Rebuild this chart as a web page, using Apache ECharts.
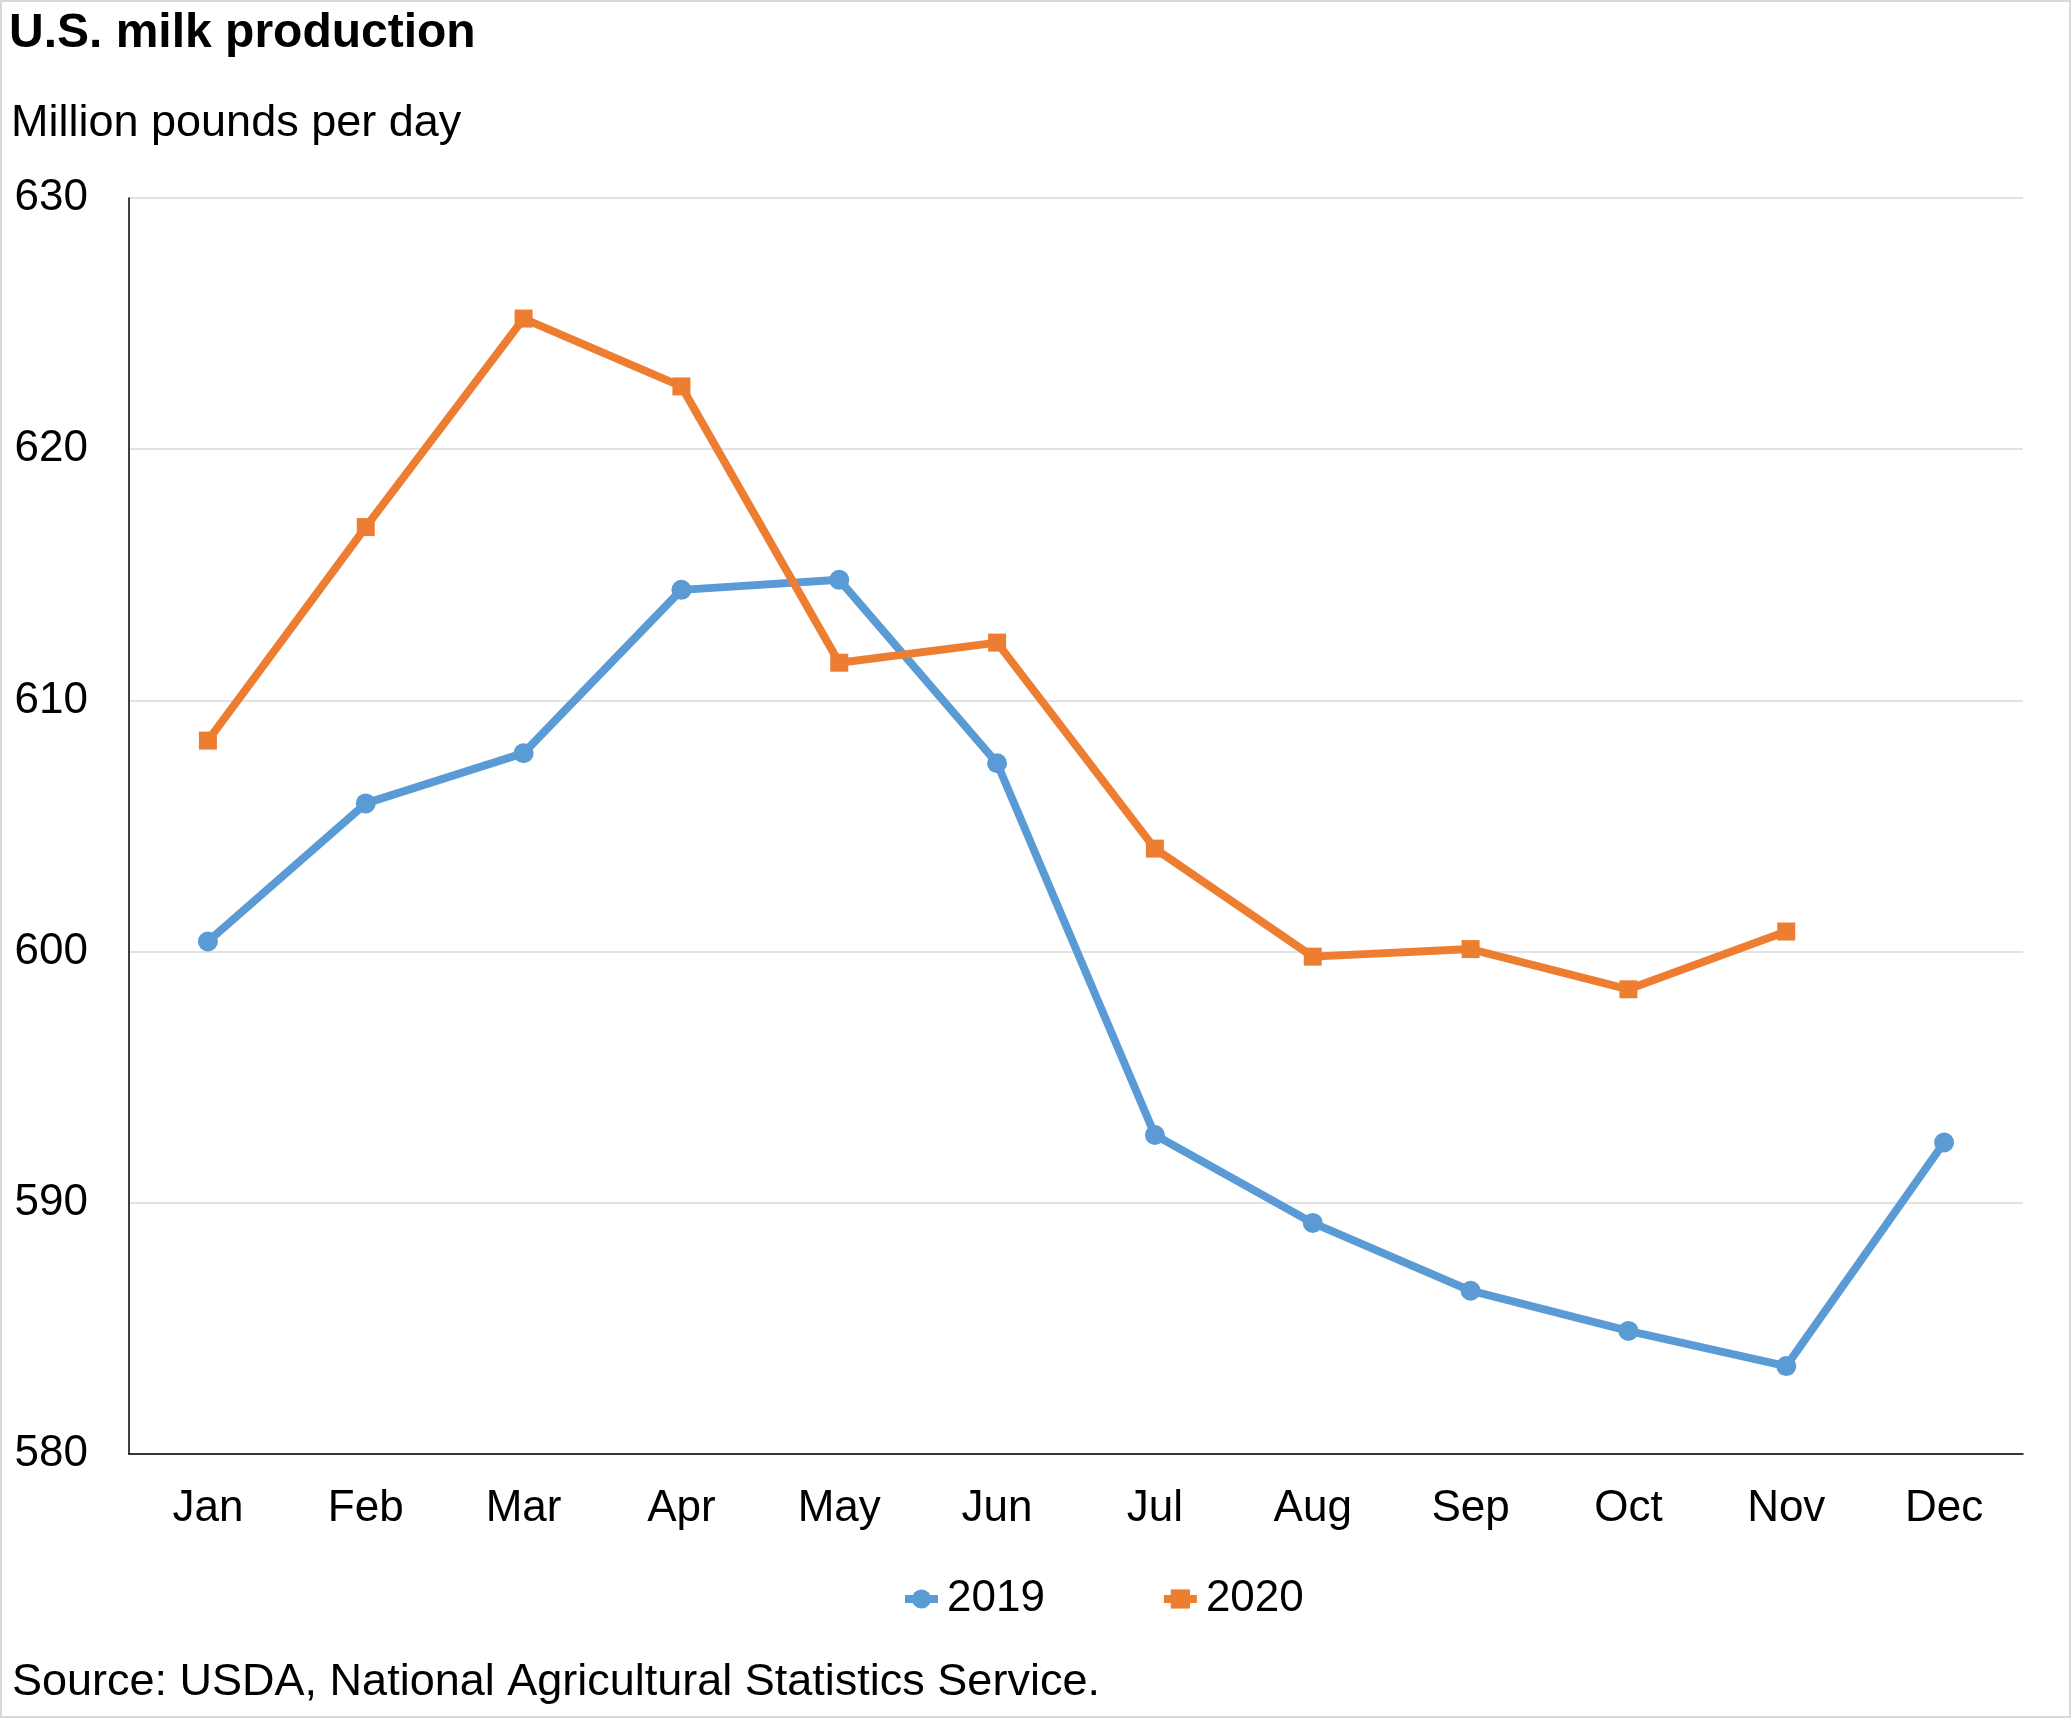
<!DOCTYPE html>
<html>
<head>
<meta charset="utf-8">
<title>U.S. milk production</title>
<script src="https://cdn.jsdelivr.net/npm/echarts@6/dist/echarts.min.js"></script>
<style>
  html, body { margin: 0; padding: 0; background: #fff; }
  #milk-line { width: 2071px; height: 1718px; }
</style>
</head>
<body>
<div id="milk-line"></div>
<script>
// values, million pounds per day
var months = ['Jan', 'Feb', 'Mar', 'Apr', 'May', 'Jun', 'Jul', 'Aug', 'Sep', 'Oct', 'Nov', 'Dec'];
var milk_2019 = [600.4, 605.9, 607.9, 614.4, 614.8, 607.5, 592.7, 589.2, 586.5, 584.9, 583.5, 592.4];
var milk_2020 = [608.4, 616.9, 625.2, 622.5, 611.5, 612.3, 604.1, 599.8, 600.1, 598.5, 600.8, null];
var y_ticks = [580, 590, 600, 610, 620, 630];

var font = '"Liberation Sans", Arial, sans-serif';

var milk_line = echarts.init(document.getElementById('milk-line'), null, { renderer: 'canvas' });
var milk_line_option = {
    animation: false,
    backgroundColor: '#ffffff',
    textStyle: { fontFamily: font, color: '#000' },
    title: [
        {
            text: 'U.S. milk production',
            left: 9, top: 10, padding: 0,
            textStyle: { fontFamily: font, fontSize: 48, fontWeight: 'bold', color: '#000' }
        },
        {
            text: 'Million pounds per day',
            left: 11, top: 101, padding: 0,
            textStyle: { fontFamily: font, fontSize: 45, fontWeight: 'normal', color: '#000' }
        },
        {
            text: 'Source: USDA, National Agricultural Statistics Service.',
            left: 12, top: 1660, padding: 0,
            textStyle: { fontFamily: font, fontSize: 45, fontWeight: 'normal', color: '#000' }
        }
    ],
    graphic: [
        {
            type: 'rect',
            shape: { x: 1, y: 1, width: 2069, height: 1716 },
            style: { fill: 'none', stroke: '#d9d9d9', lineWidth: 2 },
            silent: true
        }
    ],
    legend: {
        data: ['2019', '2020'],
        left: 901,
        top: 1577,
        padding: 0,
        itemWidth: 33,
        itemHeight: 24,
        itemGap: 115,
        lineStyle: { width: 8 },
        textStyle: { fontFamily: font, fontSize: 44, color: '#000', padding: [0, 0, 0, 4] }
    },
    grid: {
        left: 129,
        right: 48,
        top: 198,
        bottom: 264,
        containLabel: false
    },
    xAxis: {
        type: 'category',
        data: months,
        boundaryGap: true,
        axisLine: { show: true, lineStyle: { color: '#000', width: 1.5 } },
        axisTick: { show: false },
        axisLabel: { fontFamily: font, fontSize: 44, color: '#000', margin: 33 },
        splitLine: { show: false }
    },
    yAxis: {
        type: 'value',
        min: y_ticks[0],
        max: y_ticks[y_ticks.length - 1],
        interval: 10,
        axisLine: { show: true, lineStyle: { color: '#000', width: 1.5 } },
        axisTick: { show: false },
        axisLabel: { fontFamily: font, fontSize: 44, color: '#000', margin: 41, padding: [6, 0, 0, 0] },
        splitLine: { show: true, lineStyle: { color: '#d9d9d9', width: 1.5 } }
    },
    series: [
        {
            name: '2019',
            type: 'line',
            data: milk_2019,
            symbol: 'circle',
            symbolSize: 20,
            lineStyle: { color: '#5b9bd5', width: 8 },
            itemStyle: { color: '#5b9bd5' },
            z: 2
        },
        {
            name: '2020',
            type: 'line',
            data: milk_2020,
            symbol: 'rect',
            symbolSize: 18,
            connectNulls: false,
            lineStyle: { color: '#ed7d31', width: 8 },
            itemStyle: { color: '#ed7d31' },
            z: 3
        }
    ]
};
milk_line.setOption(milk_line_option);
</script>
</body>
</html>
